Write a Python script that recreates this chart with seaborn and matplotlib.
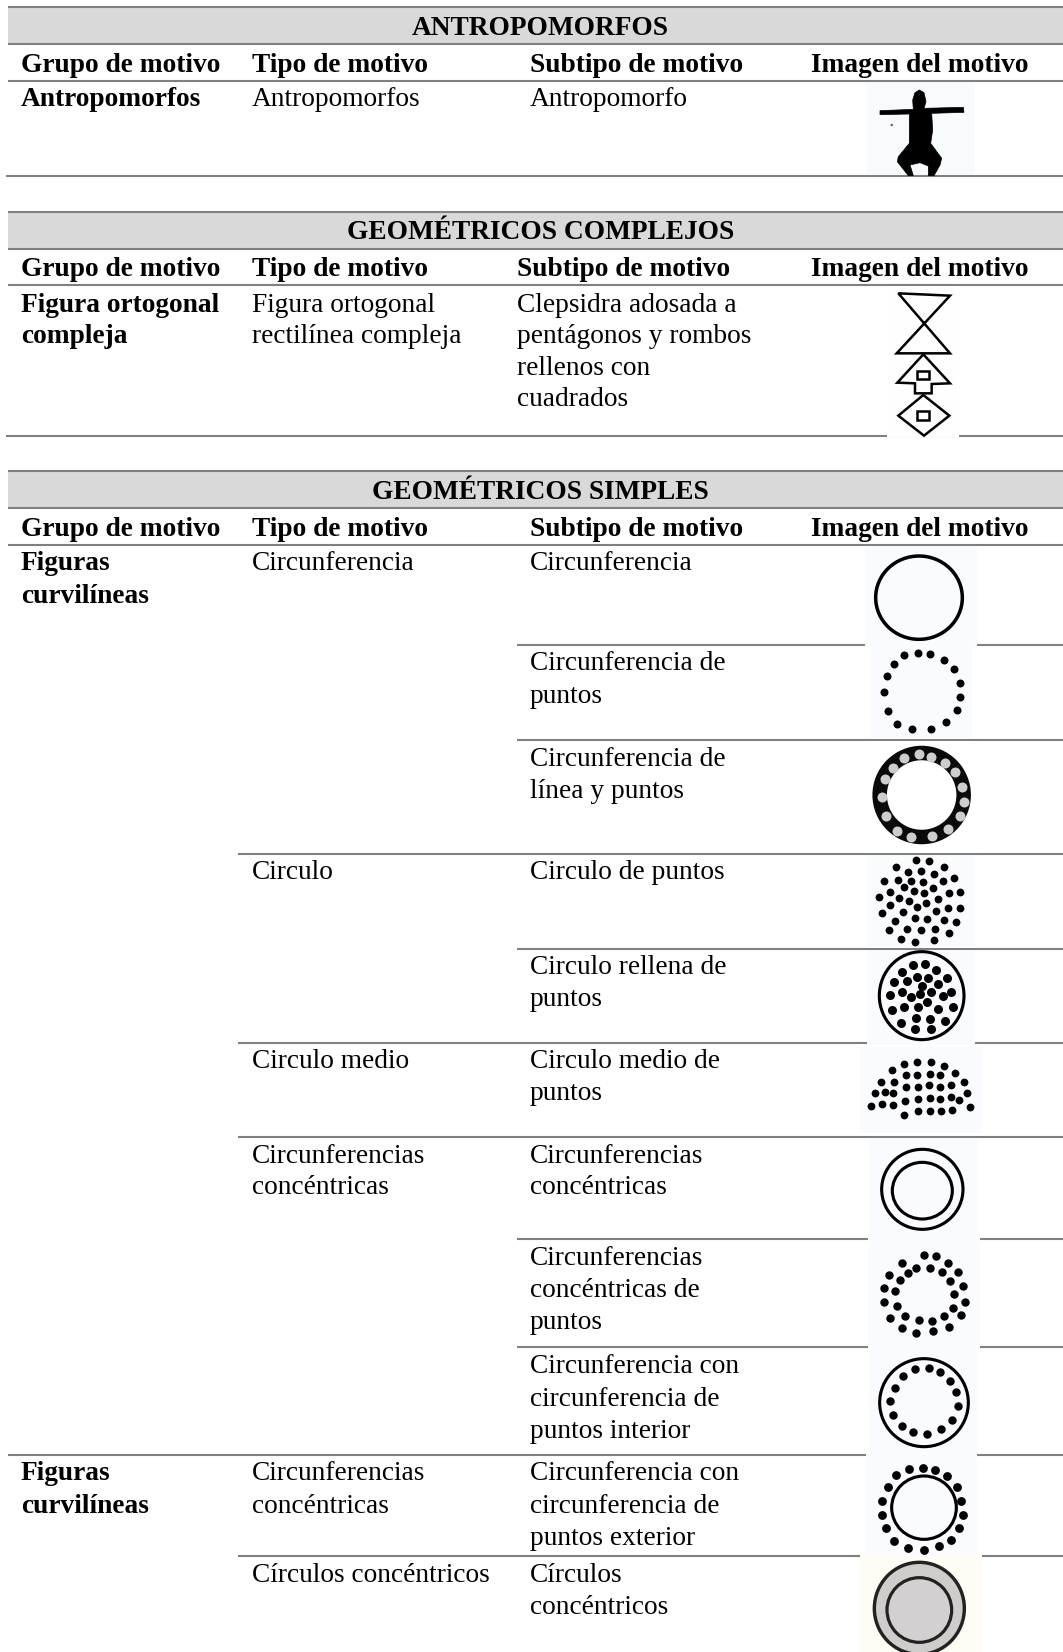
import matplotlib
matplotlib.use("Agg")
import matplotlib.pyplot as plt
from matplotlib.patches import Ellipse, Rectangle, Polygon
import pandas as pd
import seaborn as sns

sns.set_theme(style="white")
plt.rcParams['font.family'] = ['Liberation Serif', 'DejaVu Serif']

# ---------- table text ----------
band_titles = ["ANTROPOMORFOS", "GEOMÉTRICOS COMPLEJOS", "GEOMÉTRICOS SIMPLES"]
band_top = [7, 212, 471]
band_mid = [43.5, 248.5, 507.5]
band_head = [80.5, 285, 545]
title_base = [35, 239, 499]
head_base = [71.5, 276.5, 536]
head_sub_x = [530, 517, 530]
headers = ["Grupo de motivo", "Tipo de motivo", "Subtipo de motivo", "Imagen del motivo"]

grupo_labels = ["Antropomorfos", "Figura ortogonal", "compleja", "Figuras", "curvilíneas", "Figuras", "curvilíneas"]
grupo_y = [106, 311.5, 343, 570.5, 603, 1480.5, 1513]

tipo_labels = ["Antropomorfos", "Figura ortogonal", "rectilínea compleja", "Circunferencia", "Circulo",
               "Circulo medio", "Circunferencias", "concéntricas", "Circunferencias", "concéntricas",
               "Círculos concéntricos"]
tipo_y = [106, 311.5, 343, 570.5, 879, 1068, 1163, 1194.5, 1480.5, 1513, 1581.5]

subtipo_labels = ["Antropomorfo", "Clepsidra adosada a", "pentágonos y rombos", "rellenos con", "cuadrados",
                  "Circunferencia", "Circunferencia de", "puntos", "Circunferencia de", "línea y puntos",
                  "Circulo de puntos", "Circulo rellena de", "puntos", "Circulo medio de", "puntos",
                  "Circunferencias", "concéntricas", "Circunferencias", "concéntricas de", "puntos",
                  "Circunferencia con", "circunferencia de", "puntos interior",
                  "Circunferencia con", "circunferencia de", "puntos exterior",
                  "Círculos", "concéntricos"]
subtipo_y = [106, 311.5, 343, 375, 406,
             570.5, 670.5, 703, 765.5, 798,
             879, 974, 1006.5, 1068, 1100.5,
             1163, 1194.5, 1265, 1297, 1329,
             1373, 1405.5, 1437.5,
             1480.5, 1513, 1545,
             1581.5, 1614]
subtipo_x = [530] + [517] * 4 + [530] * 23

# ---------- rules: y, left end ----------
rule_y = [175.5, 435.5, 645, 740, 854, 949, 1043, 1137, 1239, 1347, 1455, 1556]
rule_x0 = [6, 6, 517, 517, 238, 517, 238, 238, 517, 517, 8, 238]

# ---------- pale image backgrounds: x0, x1, y0, y1, colour ----------
patch_x0 = [867, 887, 865, 870, 863, 867, 867, 860, 869, 868, 869, 866, 860]
patch_x1 = [975, 959, 977, 972, 981, 975, 975, 982, 978, 980, 977, 977, 982]
patch_y0 = [82, 286, 546, 646.5, 741, 855.5, 950.5, 1047, 1138, 1238, 1346, 1454, 1555]
patch_y1 = [174.5, 437, 647, 739, 853, 948, 1044.5, 1133, 1240.5, 1348.5, 1456.5, 1557.5, 1652]
patch_c = ["#f7fbfd", "#fefefe", "#fafbfe", "#fafbfe", "#ffffff", "#fafbfe", "#fafbfe", "#fafbfe",
           "#fafbfe", "#fafbfe", "#fafbfe", "#fafbfe", "#fffbf5"]

m2 = [(355,368),(391,373),(431,391),(461,417),(479,459),(480,501),(470,541),(438,576),(393,598),(335,598),
      (292,581),(263,542),(251,487),(261,438),(281,403),(312,375)]
m3 = [(357,673),(392,681),(436,698),(466,727),(487,770),(491,817),(480,858),(444,897),(396,918),(333,920),
      (292,902),(257,858),(245,800),(254,748),(280,714),(311,685)]
m4 = [(349,990),(387,992),(431,1010),(287,1010),(324,1025),(364,1022),(401,1032),(463,1043),(252,1054),(294,1050),
      (334,1052),(369,1057),(430,1052),(311,1071),(341,1082),(399,1075),(269,1085),(371,1089),(447,1090),(479,1087),
      (238,1101),(296,1103),(327,1113),(414,1107),(377,1120),(269,1126),(351,1131),(444,1134),(481,1133),(245,1150),
      (308,1146),(407,1144),(345,1165),(381,1168),(432,1171),(469,1175),(286,1172),(266,1201),(321,1196),(364,1201),
      (405,1196),(446,1209),(304,1228),(346,1237),(403,1230)]
m5 = [(339,45),(375,43),(409,59),(305,67),(441,84),(350,80),(385,83),(283,95),(320,93),(414,102),(365,107),
      (270,136),(306,125),(334,140),(361,131),(392,126),(429,137),(454,126),(380,156),(353,170),(312,170),(276,181),
      (415,176),(458,172),(349,204),(389,206),(304,220),(436,213),(345,237),(394,238)]
m6 = [(352,335),(394,335),(313,343),(432,347),(275,361),(465,368),(318,376),(351,375),(389,371),(421,376),
      (244,395),(282,396),(491,396),(317,412),(355,410),(386,405),(420,411),(454,405),(225,430),(254,426),(280,430),
      (502,430),(315,454),(355,448),(390,445),(421,447),(454,441),(478,451),(214,468),(246,463),(279,466),(510,470),
      (312,494),(355,482),(390,482),(424,484),(457,481)]
m8 = [(371,914),(408,919),(306,938),(443,940),(268,974),(474,967),(349,953),(390,953),(323,968),(427,966),
      (301,990),(451,993),(253,1013),(490,1009),(285,1024),(463,1031),(251,1057),(494,1056),(291,1067),(459,1073),
      (271,1103),(314,1098),(433,1097),(482,1096),(356,1111),(397,1112),(305,1135),(446,1131),(349,1149),(399,1144)]
m9 = [(345,27),(388,25),(420,37),(450,62),(468,95),(473,139),(456,179),(422,207),(381,221),(340,215),(306,198),
      (279,165),(271,124),(285,83),(309,49)]
m10 = [(369,325),(405,331),(441,347),(470,382),(484,424),(488,465),(477,505),(453,541),(418,558),(373,570),
       (323,564),(282,544),(258,505),(247,465),(245,423),(263,380),(289,345),(328,328)]

CROP2, CROP3, CROP4 = 530, 950, 1360
dot_sets = [(m2, CROP2, 8, "black"), (m3, CROP2, 10, "#cdcdcd"), (m4, CROP2, 7.8, "black"),
            (m5, CROP3, 9, "black"), (m6, CROP3, 7.8, "black"), (m8, CROP3, 8.4, "black"),
            (m9, CROP4, 8.4, "black"), (m10, CROP4, 8.8, "black")]

# outlines: crop centre x, y, semi-axes in crop pixels, crop origin
ring_cx = [357, 365, 367, 367, 372, 372, 358, 358]
ring_cy = [203, 137, 718, 722, 128, 443, 745, 750]
ring_rx = [130, 127, 122, 90, 133, 97, 135, 97]
ring_ry = [125, 132, 120, 85, 132, 95, 138, 97]
ring_org = [CROP2, CROP3, CROP3, CROP3, CROP4, CROP4, CROP4, CROP4]

# figures, in 3x crops with origins (860,80) and (870,285)
anthro = [(178,30),(192,38),(198,65),(192,85),(310,82),(312,97),(215,100),(218,150),(212,190),(245,235),(240,255),
          (222,287),(205,287),(205,258),(180,248),(150,255),(160,287),(145,287),(112,245),(115,230),(148,190),
          (148,102),(60,104),(60,92),(160,88),(158,60),(165,38)]
hourglass = [(85,25),(240,32),(80,205),(240,205)]
pentagon = [(160,208),(82,293),(135,295),(135,325),(185,325),(185,297),(240,295)]
diamond = [(160,330),(85,392),(162,452),(238,392)]
squares = [[(140,258),(178,258),(178,282),(140,282)], [(140,378),(178,378),(178,406),(140,406)]]

W, H = 1063, 1652
fig = plt.figure(figsize=(W / 100, H / 100), dpi=100, facecolor="white")
ax = fig.add_axes([0, 0, 1, 1])
ax.set_xlim(0, W)
ax.set_ylim(H, 0)
ax.axis("off")

FS = 19.75
LINE = "#808080"
LW = 1.5
a_px = lambda p: (860 + p[0] / 3, 80 + p[1] / 3)
f_px = lambda p: (870 + p[0] / 3, 285 + p[1] / 3)

# bands and header rules
for t, top, mid, head, tb, hb, sx in zip(band_titles, band_top, band_mid, band_head, title_base, head_base, head_sub_x):
    ax.add_patch(Rectangle((8, top), W - 8, mid - top, fc="#d9d9d9", ec="none", zorder=1))
    ax.hlines([top, mid, head], 8, W, color=LINE, lw=LW, zorder=2)
    ax.text(540.5, tb, t, ha="center", va="baseline", fontsize=FS, fontweight="bold", color="black", zorder=5)
    for lab, x in zip(headers, [21, 252, sx, 811]):
        ax.text(x, hb, lab, ha="left", va="baseline", fontsize=FS, fontweight="bold", color="black", zorder=5)

ax.hlines(rule_y, rule_x0, W, color=LINE, lw=LW, zorder=2)

for x0, x1, y0, y1, c in zip(patch_x0, patch_x1, patch_y0, patch_y1, patch_c):
    ax.add_patch(Rectangle((x0, y0), x1 - x0, y1 - y0, fc=c, ec="none", zorder=3))

for lab, y in zip(grupo_labels, grupo_y):
    ax.text(21, y, lab, va="baseline", fontsize=FS, fontweight="bold", color="black", zorder=5)
for lab, y in zip(tipo_labels, tipo_y):
    ax.text(252, y, lab, va="baseline", fontsize=FS, color="black", zorder=5)
for lab, x, y in zip(subtipo_labels, subtipo_x, subtipo_y):
    ax.text(x, y, lab, va="baseline", fontsize=FS, color="black", zorder=5)

# outlines
def ell(cx, cy, rx, ry, org, lw=3.1, fc="none", ec="black", z=4):
    ax.add_patch(Ellipse((800 + cx / 3, org + cy / 3), 2 * rx / 3, 2 * ry / 3, fc=fc, ec=ec, lw=lw * 0.72, zorder=z))

ell(ring_cx[0], ring_cy[0], ring_rx[0], ring_ry[0], ring_org[0], lw=3.5)
ell(365, 795, 126, 126, CROP2, lw=14.5, ec="#0a0a0a")          # thick ring of "línea y puntos"
for i in range(1, 6):
    ell(ring_cx[i], ring_cy[i], ring_rx[i], ring_ry[i], ring_org[i], lw=3.1)
ell(ring_cx[6], ring_cy[6], ring_rx[6], ring_ry[6], ring_org[6], lw=3.4, fc="#cfcdcc", ec="#222222")
ell(ring_cx[7], ring_cy[7], ring_rx[7], ring_ry[7], ring_org[7], lw=3.2, fc="#d2d0d0", ec="#222222", z=4.1)

# dots through seaborn
for pts, org, d, col in dot_sets:
    df = pd.DataFrame(pts, columns=["x", "y"])
    df["x"] = 800 + df["x"] / 3
    df["y"] = org + df["y"] / 3
    sns.scatterplot(data=df, x="x", y="y", ax=ax, s=(d * 0.72) ** 2, color=col, linewidth=0, legend=False, zorder=6)
ax.axis("off")
ax.set_xlim(0, W)
ax.set_ylim(H, 0)

# figures
ax.add_patch(Polygon([a_px(p) for p in anthro], closed=True, fc="black", ec="black", lw=0.5, zorder=6))
ax.add_patch(Ellipse(a_px((95, 135)), 2.5, 2.5, fc="#666666", ec="none", zorder=6))
for shape in [hourglass, pentagon, diamond] + squares:
    ax.add_patch(Polygon([f_px(p) for p in shape], closed=True, fc="none", ec="black", lw=1.8, zorder=6))

fig.savefig("out.png", dpi=100, facecolor="white")
